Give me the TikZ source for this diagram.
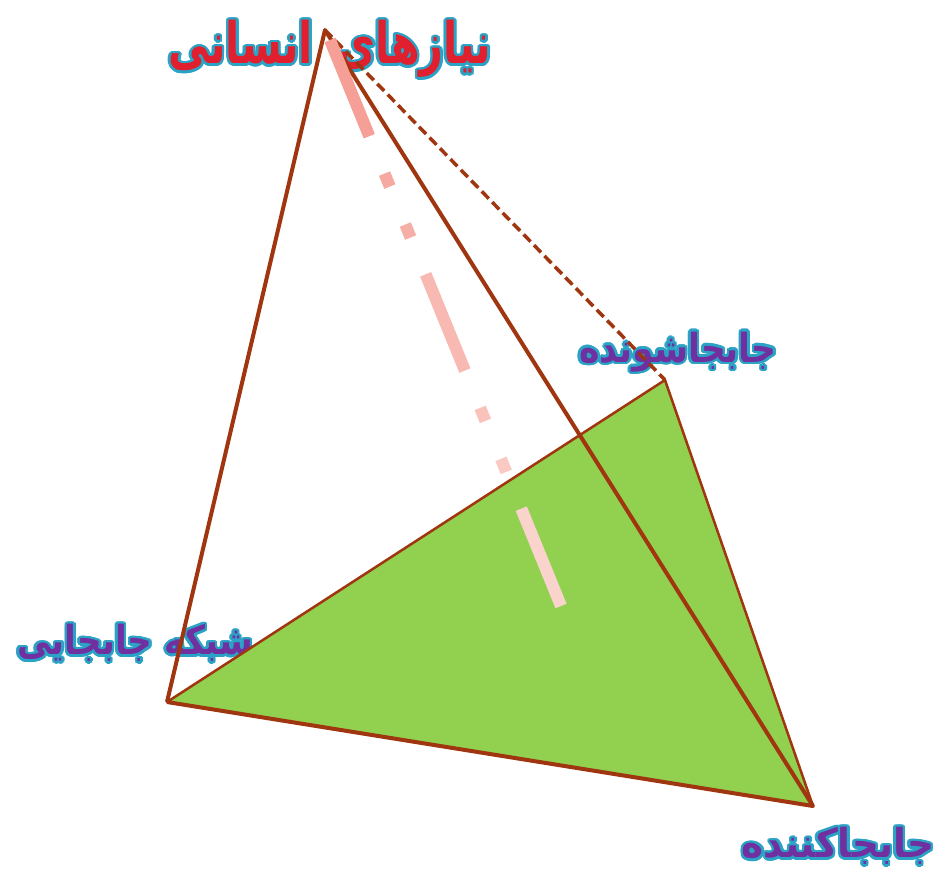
\documentclass[tikz,border=0pt]{standalone}
\usepackage{graphicx}
\usepackage{fontspec}
\usetikzlibrary{calc}
\TeXXeTstate=1
\newfontfamily\arabicfont[Script=Arabic]{DejaVu Sans}
\definecolor{brownline}{HTML}{A0360F}
\definecolor{greenfill}{HTML}{92D050}
\definecolor{pinkA}{HTML}{F49A90}
\definecolor{pinkB}{HTML}{FBD8D3}
\definecolor{halo}{HTML}{2AA3C6}
\definecolor{titlered}{HTML}{E0202E}
\definecolor{labpurple}{HTML}{7030A0}
\tikzset{
  edgethick/.style={draw=brownline,line width=4pt,line join=round},
  greentri/.style={fill=greenfill,draw=brownline,line width=2.5pt,line join=round},
  hiddenedge/.style={draw=brownline,line width=3.5pt,dash pattern=on 10pt off 5pt},
  lab/.style={inner sep=0pt,font=\arabicfont\bfseries\fontsize{32}{38}\selectfont},
  titlelab/.style={inner sep=0pt,font=\arabicfont\bfseries\fontsize{44}{52}\selectfont},
}
\newcommand\halolabel[6]{% name, position, style, fill colour, xscale, yscale ; text via \lbltext
  \foreach \a [count=\i] in {0,20,...,340}
    \node[#3,text=halo] (#1h\i) at ($(#2)+(\a:2.6)$) {\scalebox{#5}[#6]{\beginR\lbltext\endR}};
  \node[#3,text=#4] (#1) at (#2) {\scalebox{#5}[#6]{\beginR\lbltext\endR}};}
\begin{document}
\begin{tikzpicture}[x=1pt,y=-1pt]
\useasboundingbox (0,0) rectangle (939,872);
\coordinate (A) at (325,30);
\coordinate (L) at (167,702);
\coordinate (R) at (813,806);
\coordinate (B) at (665,380);
\coordinate (S) at (330,40);
\coordinate (E) at (561,606);
\coordinate (pt) at (330,49);
\coordinate (pb) at (678,352);
\coordinate (pl) at (135,643);
\coordinate (pr) at (838,846);
% labels
\def\lbltext{نیازهای\hspace{26pt}انسانی}\halolabel{tA}{pt}{titlelab}{titlered}{0.94}{1.3}
\def\lbltext{جابجاشونده}\halolabel{tB}{pb}{lab}{labpurple}{1.08}{1.25}
\def\lbltext{شبکه جابجایی}\halolabel{tL}{pl}{lab}{labpurple}{1.07}{1.25}
\def\lbltext{جابجاکننده}\halolabel{tR}{pr}{lab}{labpurple}{1.17}{1.25}
% green face
\path[greentri] (L) -- (B) -- (R) -- cycle;
% thick edges
\draw[edgethick] (L) -- (A) -- (R) -- (L);
% hidden edge
\draw[hiddenedge] (A) -- (B);
% dash-dot height line
\foreach \s/\e in {0/0.170,0.236/0.259,0.326/0.349,0.414/0.584,0.650/0.673,0.740/0.763,0.828/1}{
  \pgfmathsetmacro\pc{100*(1-(\s+\e)/2)}
  \draw[line width=12pt,draw=pinkA!\pc!pinkB] ($(S)!\s!(E)$) -- ($(S)!\e!(E)$);
}
\end{tikzpicture}
\end{document}
